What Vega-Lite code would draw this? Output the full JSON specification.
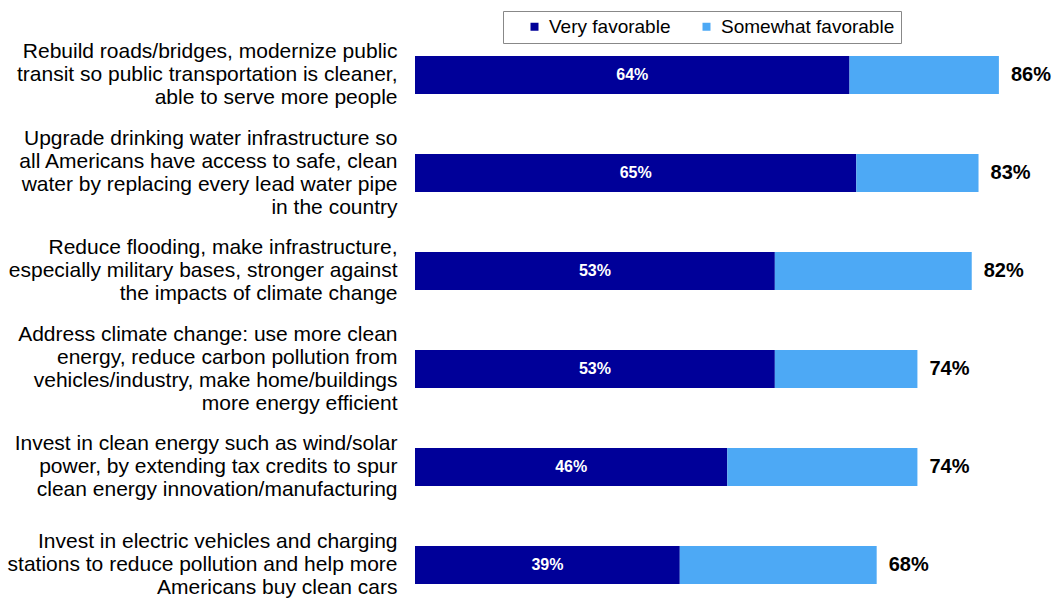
{
  "$schema": "https://vega.github.io/schema/vega-lite/v6.json",
  "width": 645,
  "height": 528,
  "autosize": {"type": "none"},
  "padding": {"left": 415, "top": 56, "right": 0, "bottom": 14},
  "background": "white",
  "config": {"view": {"stroke": null}, "font": "Liberation Sans"},
  "data": {
    "values": [
      {"item": "Rebuild roads/bridges, modernize public|transit so public transportation is cleaner,|able to serve more people", "type": "Very favorable", "value": 0.64},
      {"item": "Rebuild roads/bridges, modernize public|transit so public transportation is cleaner,|able to serve more people", "type": "Somewhat favorable", "value": 0.22},
      {"item": "Upgrade drinking water infrastructure so|all Americans have access to safe, clean|water by replacing every lead water pipe|in the country", "type": "Very favorable", "value": 0.65},
      {"item": "Upgrade drinking water infrastructure so|all Americans have access to safe, clean|water by replacing every lead water pipe|in the country", "type": "Somewhat favorable", "value": 0.18},
      {"item": "Reduce flooding, make infrastructure,|especially military bases, stronger against|the impacts of climate change", "type": "Very favorable", "value": 0.53},
      {"item": "Reduce flooding, make infrastructure,|especially military bases, stronger against|the impacts of climate change", "type": "Somewhat favorable", "value": 0.29},
      {"item": "Address climate change: use more clean|energy, reduce carbon pollution from|vehicles/industry, make home/buildings|more energy efficient", "type": "Very favorable", "value": 0.53},
      {"item": "Address climate change: use more clean|energy, reduce carbon pollution from|vehicles/industry, make home/buildings|more energy efficient", "type": "Somewhat favorable", "value": 0.21},
      {"item": "Invest in clean energy such as wind/solar|power, by extending tax credits to spur|clean energy innovation/manufacturing", "type": "Very favorable", "value": 0.46},
      {"item": "Invest in clean energy such as wind/solar|power, by extending tax credits to spur|clean energy innovation/manufacturing", "type": "Somewhat favorable", "value": 0.28},
      {"item": "Invest in electric vehicles and charging|stations to reduce pollution and help more|Americans buy clean cars", "type": "Very favorable", "value": 0.39},
      {"item": "Invest in electric vehicles and charging|stations to reduce pollution and help more|Americans buy clean cars", "type": "Somewhat favorable", "value": 0.29}
    ]
  },
  "encoding": {
    "y": {
      "field": "item",
      "type": "nominal",
      "sort": null,
      "scale": {"paddingInner": 0.612, "paddingOuter": 0},
      "axis": {
        "title": null,
        "domain": false,
        "ticks": false,
        "labelPadding": 18,
        "labelFontSize": 21,
        "labelColor": "black",
        "labelFont": "Liberation Sans",
        "labelLimit": 500,
        "labelLineHeight": 23,
        "labelAlign": "right",
        "labelBaseline": "middle",
        "labelOffset": {"condition": {"test": "length(split(datum.label, '|')) == 4", "value": -34}, "value": -23},
        "labelExpr": "split(datum.label, '|')"
      }
    }
  },
  "layer": [
    {
      "transform": [
        {"calculate": "indexof(['Very favorable','Somewhat favorable'], datum.type)", "as": "ord"}
      ],
      "mark": {"type": "bar"},
      "encoding": {
        "x": {
          "field": "value",
          "type": "quantitative",
          "stack": "zero",
          "scale": {"domain": [0, 0.95], "nice": false},
          "axis": null
        },
        "color": {
          "field": "type",
          "type": "nominal",
          "scale": {"domain": ["Very favorable", "Somewhat favorable"], "range": ["#000099", "#4DA9F5"]},
          "legend": {
            "title": "\u00a0",
            "titleOrient": "left",
            "titlePadding": 16,
            "titleFontSize": 19,
            "orient": "none",
            "legendX": 88,
            "legendY": -45,
            "direction": "horizontal",
            "symbolType": "square",
            "symbolSize": 64,
            "symbolStrokeWidth": 0,
            "labelOffset": 5,
            "labelFontSize": 19,
            "labelFont": "Liberation Sans",
            "labelColor": "black",
            "labelLimit": 400,
            "columnPadding": 26,
            "padding": 6,
            "strokeColor": "#888888",
            "fillColor": "white"
          }
        },
        "order": {"field": "ord", "type": "quantitative"}
      }
    },
    {
      "transform": [
        {"filter": "datum.type === 'Very favorable'"},
        {"calculate": "datum.value / 2", "as": "mid"}
      ],
      "mark": {"type": "text", "color": "white", "fontWeight": "bold", "fontSize": 16, "font": "Liberation Sans", "baseline": "middle", "align": "center"},
      "encoding": {
        "x": {"field": "mid", "type": "quantitative"},
        "text": {"field": "value", "type": "quantitative", "format": ".0%"}
      }
    },
    {
      "transform": [
        {"aggregate": [{"op": "sum", "field": "value", "as": "total"}], "groupby": ["item"]}
      ],
      "mark": {"type": "text", "color": "black", "fontWeight": "bold", "fontSize": 20, "font": "Liberation Sans", "baseline": "middle", "align": "left", "dx": 12},
      "encoding": {
        "x": {"field": "total", "type": "quantitative"},
        "text": {"field": "total", "type": "quantitative", "format": ".0%"}
      }
    }
  ]
}
